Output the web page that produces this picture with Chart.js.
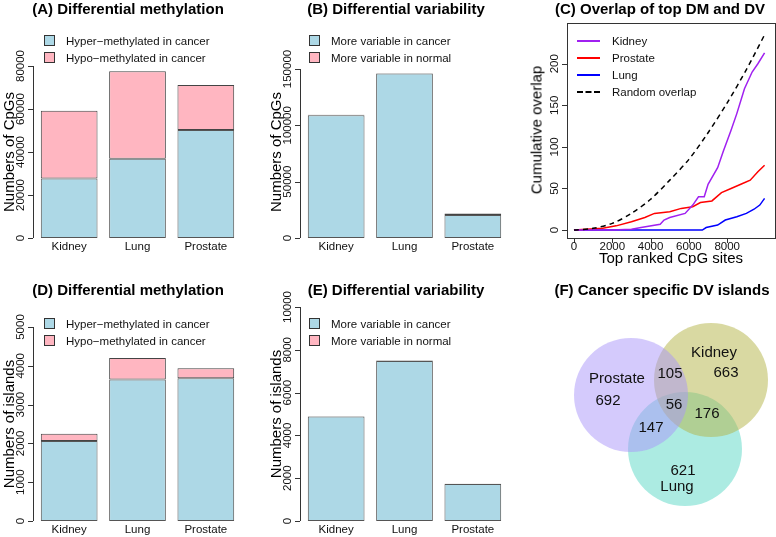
<!doctype html>
<html lang="en">
<head>
<meta charset="utf-8">
<title>DM and DV panels</title>
<script src="https://cdn.jsdelivr.net/npm/chart.js@4/dist/chart.umd.min.js"></script>
<style>
  body { margin: 0; background: #fff; font-family: "Liberation Sans", Arial, sans-serif; }
  #fig { position: relative; width: 776px; height: 537px; overflow: hidden; }
  #fig canvas { position: absolute; left: 0; top: 0; }
  .t { position: absolute; font-weight: bold; font-size: 15px; white-space: nowrap; transform: translateX(-50%); }
  .lab { position: absolute; font-size: 15px; white-space: nowrap; transform: translate(-50%, -50%) rotate(-90deg); }
  .xl { position: absolute; font-size: 15px; white-space: nowrap; transform: translateX(-50%); }
  .leg { position: absolute; font-size: 11.5px; line-height: 17px; color: #111; }
  .leg div { white-space: nowrap; }
  .sq { display: inline-block; width: 9px; height: 9px; border: 1px solid #333; margin-right: 11px; vertical-align: -1px; }
  .ln { display: inline-block; width: 23px; height: 0; border-top: 2px solid; margin-right: 12px; vertical-align: 3px; }
</style>
</head>
<body>
<div id="fig">
  <canvas id="cA" width="776" height="537"></canvas>
  <canvas id="cB" width="776" height="537"></canvas>
  <canvas id="cC" width="776" height="537"></canvas>
  <canvas id="cD" width="776" height="537"></canvas>
  <canvas id="cE" width="776" height="537"></canvas>
  <canvas id="cF" width="776" height="537"></canvas>

  <div class="t" style="left:128px;top:0px">(A) Differential methylation</div>
  <div class="t" style="left:396px;top:0px">(B) Differential variability</div>
  <div class="t" style="left:660px;top:0px">(C) Overlap of top DM and DV</div>
  <div class="t" style="left:128px;top:281px">(D) Differential methylation</div>
  <div class="t" style="left:396px;top:281px">(E) Differential variability</div>
  <div class="t" style="left:662px;top:281px">(F) Cancer specific DV islands</div>

  <div class="lab" style="left:8px;top:152px">Numbers of CpGs</div>
  <div class="lab" style="left:275px;top:152px">Numbers of CpGs</div>
  <div class="lab" style="left:536px;top:130px">Cumulative overlap</div>
  <div class="lab" style="left:8px;top:424px">Numbers of islands</div>
  <div class="lab" style="left:275px;top:414px">Numbers of islands</div>
  <div class="xl" style="left:671px;top:249px">Top ranked CpG sites</div>

  <div class="leg" style="left:44px;top:33px">
    <div><span class="sq" style="background:#add8e6"></span>Hyper&minus;methylated in cancer</div>
    <div><span class="sq" style="background:#ffb6c1"></span>Hypo&minus;methylated in cancer</div>
  </div>
  <div class="leg" style="left:309px;top:33px">
    <div><span class="sq" style="background:#add8e6"></span>More variable in cancer</div>
    <div><span class="sq" style="background:#ffb6c1"></span>More variable in normal</div>
  </div>
  <div class="leg" style="left:577px;top:33px">
    <div><span class="ln" style="border-color:#a020f0"></span>Kidney</div>
    <div><span class="ln" style="border-color:#ff0000"></span>Prostate</div>
    <div><span class="ln" style="border-color:#0000ff"></span>Lung</div>
    <div><span class="ln" style="border-color:#000;border-top-style:dashed"></span>Random overlap</div>
  </div>
  <div class="leg" style="left:44px;top:316px">
    <div><span class="sq" style="background:#add8e6"></span>Hyper&minus;methylated in cancer</div>
    <div><span class="sq" style="background:#ffb6c1"></span>Hypo&minus;methylated in cancer</div>
  </div>
  <div class="leg" style="left:309px;top:316px">
    <div><span class="sq" style="background:#add8e6"></span>More variable in cancer</div>
    <div><span class="sq" style="background:#ffb6c1"></span>More variable in normal</div>
  </div>
</div>

<script>
const tissues = ["Kidney", "Lung", "Prostate"];

// (A) CpGs, differential methylation
const cpgHyper = [27700, 36900, 50200];
const cpgHypo = [31500, 40700, 21000];
const cpgTicksA = [0, 20000, 40000, 60000, 80000];

// (B) CpGs, differential variability
const cpgVarCancer = [109000, 146000, 20500];
const cpgVarNormal = [300, 300, 1300];
const cpgTicksB = [0, 50000, 100000, 150000];

// (C) cumulative overlap of top ranked sites
const kidneyX = [0, 2000, 3000, 3500, 4500, 4700, 5000, 5800, 6200, 6500, 6800, 7000, 7500, 7800, 8200, 8500, 8900, 9300, 9600, 9950];
const kidneyY = [0, 0, 1, 3, 7, 12, 15, 20, 30, 40, 40, 55, 75, 95, 120, 140, 170, 190, 200, 213];
const prostateX = [0, 1500, 2200, 3000, 3700, 4200, 5000, 5600, 6200, 6600, 7200, 7700, 8200, 8800, 9200, 9600, 9950];
const prostateY = [0, 2, 5, 10, 15, 20, 22, 26, 28, 33, 35, 45, 50, 56, 60, 70, 78];
const lungX = [0, 6700, 6900, 7500, 7900, 8500, 9000, 9400, 9700, 9950];
const lungY = [0, 0, 3, 6, 12, 16, 20, 25, 30, 38];
const randomX = [0, 1000, 2000, 3000, 4000, 5000, 6000, 7000, 8000, 9000, 10000];
const randomY = [0, 2, 8, 20, 37, 60, 85, 117, 153, 193, 237];
const overlapXTicks = [0, 2000, 4000, 6000, 8000];
const overlapYTicks = [0, 50, 100, 150, 200];

// (D) islands, differential methylation
const islHyper = [2060, 3650, 3680];
const islHypo = [190, 550, 260];
const islTicksD = [0, 1000, 2000, 3000, 4000, 5000];

// (E) islands, differential variability
const islVarCancer = [4880, 7480, 1730];
const islVarNormal = [15, 15, 15];
const islTicksE = [0, 2000, 4000, 6000, 8000, 10000];

// (F) venn counts
const vennSets = ["Prostate", "Kidney", "Lung"];
const vennCounts = { prostate: 692, kidney: 663, lung: 621, pk: 105, pl: 147, kl: 176, all: 56 };

const W = 776, H = 537;
const FONT = '"Liberation Sans", Arial, sans-serif';

// draws R-like axes: rotated y tick labels, optional x ticks, categories, box
const rAxes = {
  id: "rAxes",
  afterDraw(chart, args, o) {
    const ctx = chart.ctx, a = chart.chartArea, ys = chart.scales.y, xs = chart.scales.x;
    ctx.save();
    ctx.strokeStyle = "#333"; ctx.fillStyle = "#111"; ctx.lineWidth = 1;
    ctx.font = "11.5px " + FONT;
    const ax = o.box ? a.left : a.left - (o.yGap || 3);
    if (o.yTicks) {
      const p0 = ys.getPixelForValue(o.yTicks[0]);
      const p1 = ys.getPixelForValue(o.yTicks[o.yTicks.length - 1]);
      ctx.beginPath();
      ctx.moveTo(ax + 0.5, p0); ctx.lineTo(ax + 0.5, p1);
      o.yTicks.forEach(t => {
        const p = Math.round(ys.getPixelForValue(t)) + 0.5;
        ctx.moveTo(ax, p); ctx.lineTo(ax - 5, p);
      });
      ctx.stroke();
      o.yTicks.forEach(t => {
        const p = ys.getPixelForValue(t);
        ctx.save();
        ctx.translate(ax - 6, p); ctx.rotate(-Math.PI / 2);
        ctx.textAlign = "center"; ctx.textBaseline = "bottom";
        ctx.fillText(String(t), 0, 0);
        ctx.restore();
      });
    }
    if (o.xTicks) {
      const by = a.bottom;
      ctx.beginPath();
      ctx.moveTo(xs.getPixelForValue(o.xTicks[0]), by + 0.5);
      ctx.lineTo(xs.getPixelForValue(o.xTicks[o.xTicks.length - 1]), by + 0.5);
      o.xTicks.forEach(t => {
        const p = Math.round(xs.getPixelForValue(t)) + 0.5;
        ctx.moveTo(p, by); ctx.lineTo(p, by + 5);
      });
      ctx.stroke();
      ctx.textAlign = "center"; ctx.textBaseline = "top";
      o.xTicks.forEach(t => ctx.fillText(String(t), xs.getPixelForValue(t), by + 3));
    }
    if (o.cats) {
      ctx.textAlign = "center"; ctx.textBaseline = "top";
      o.cats.forEach((c, i) => ctx.fillText(c, xs.getPixelForValue(i), a.bottom + 3));
    }
    if (o.box) {
      ctx.strokeRect(a.left + 0.5, a.top + 0.5, a.right - a.left, a.bottom - a.top);
    }
    if (o.venn) {
      ctx.font = "15px " + FONT;
      ctx.textAlign = "center"; ctx.textBaseline = "middle";
      o.venn.forEach(t => ctx.fillText(t[0], xs.getPixelForValue(t[1]), ys.getPixelForValue(t[2])));
    }
    ctx.restore();
  }
};

function pad(l, t, r, b) {
  return { left: l, top: t, right: W - r, bottom: H - b };
}

function barChart(id, area, yMax, cancer, normal, ticks) {
  const ds = [
    { data: cancer, backgroundColor: "#add8e6", borderColor: "#555", borderWidth: 1, borderSkipped: false },
    { data: normal, backgroundColor: "#ffb6c1", borderColor: "#444", borderWidth: 1, borderSkipped: false }
  ];
  new Chart(document.getElementById(id), {
    type: "bar",
    data: { labels: tissues, datasets: ds },
    options: {
      responsive: false, animation: false, devicePixelRatio: 1,
      layout: { padding: area },
      categoryPercentage: 1, barPercentage: 0.83,
      scales: {
        x: { display: false, stacked: true },
        y: { display: false, stacked: true, min: 0, max: yMax }
      },
      plugins: { legend: { display: false }, tooltip: { enabled: false },
        rAxes: { yTicks: ticks, cats: tissues, yGap: 2 } }
    },
    plugins: [rAxes]
  });
}

barChart("cA", pad(35, 66, 240, 238), 80000, cpgHyper, cpgHypo, cpgTicksA);
barChart("cB", pad(302, 69, 507, 238), 150000, cpgVarCancer, cpgVarNormal, cpgTicksB);
barChart("cD", pad(35, 327, 240, 521), 5000, islHyper, islHypo, islTicksD);
barChart("cE", pad(302, 307, 507, 521), 10000, islVarCancer, islVarNormal, islTicksE);

function pts(xs, ys) { return xs.map((x, i) => ({ x, y: ys[i] })); }

new Chart(document.getElementById("cC"), {
  type: "line",
  data: {
    datasets: [
      { data: pts(randomX, randomY), borderColor: "#000", borderDash: [5, 4], borderWidth: 1.5, tension: 0.3 },
      { data: pts(kidneyX, kidneyY), borderColor: "#a020f0", borderWidth: 1.5 },
      { data: pts(prostateX, prostateY), borderColor: "#ff0000", borderWidth: 1.5 },
      { data: pts(lungX, lungY), borderColor: "#0000ff", borderWidth: 1.5 }
    ]
  },
  options: {
    responsive: false, animation: false, devicePixelRatio: 1,
    layout: { padding: pad(567, 23, 775, 238) },
    elements: { point: { radius: 0 }, line: { fill: false } },
    scales: {
      x: { type: "linear", display: false, min: -364, max: 10494 },
      y: { type: "linear", display: false, min: -9.6, max: 249 }
    },
    plugins: { legend: { display: false }, tooltip: { enabled: false },
      rAxes: { yTicks: overlapYTicks, xTicks: overlapXTicks, box: true } }
  },
  plugins: [rAxes]
});

new Chart(document.getElementById("cF"), {
  type: "bubble",
  data: {
    datasets: [
      { label: vennSets[0], data: [{ x: 631, y: 395, r: 57 }], backgroundColor: "rgba(170,150,250,0.5)", borderWidth: 0, clip: false },
      { label: vennSets[1], data: [{ x: 711, y: 380, r: 57 }], backgroundColor: "rgba(180,180,70,0.5)", borderWidth: 0, clip: false },
      { label: vennSets[2], data: [{ x: 685, y: 449, r: 57 }], backgroundColor: "rgba(70,210,190,0.45)", borderWidth: 0, clip: false }
    ]
  },
  options: {
    responsive: false, animation: false, devicePixelRatio: 1,
    layout: { padding: 0, autoPadding: false },
    scales: {
      x: { type: "linear", display: false, min: 0, max: W },
      y: { type: "linear", display: false, min: 0, max: H, reverse: true }
    },
    plugins: { legend: { display: false }, tooltip: { enabled: false },
      rAxes: { venn: [
        [vennSets[0], 617, 379], [String(vennCounts.prostate), 608, 401],
        [vennSets[1], 714, 353], [String(vennCounts.kidney), 726, 373],
        [String(vennCounts.pk), 670, 374], [String(vennCounts.all), 674, 405],
        [String(vennCounts.kl), 707, 414], [String(vennCounts.pl), 651, 428],
        [String(vennCounts.lung), 683, 471], [vennSets[2], 677, 487]
      ] } }
  },
  plugins: [rAxes]
});
</script>
</body>
</html>
